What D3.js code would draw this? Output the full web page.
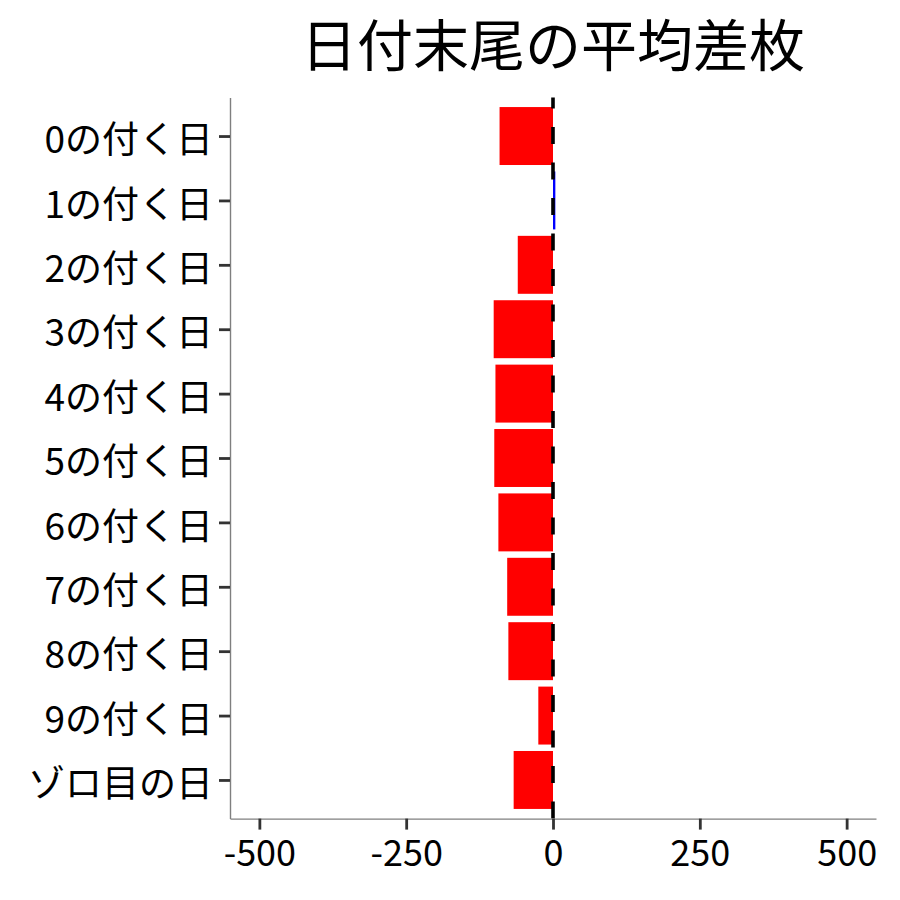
<!DOCTYPE html>
<html>
<head>
    <meta charset="utf-8">
    <title>日付末尾の平均差枚</title>
    <script src="https://d3js.org/d3.v7.min.js"></script>
    <style>
        body { margin: 0; background: #fff; }
        text { font-family: "Noto Sans CJK JP", "Noto Sans", sans-serif; }
    </style>
</head>
<body>
    <div id="chart"></div>

    <script>
        // Data for the chart
        var categories = ["0の付く日", "1の付く日", "2の付く日", "3の付く日", "4の付く日",
                          "5の付く日", "6の付く日", "7の付く日", "8の付く日", "9の付く日", "ゾロ目の日"];
        var values = [-91, 4, -60, -101, -98, -100, -93, -78, -76, -25, -67];
        var xTicks = [-500, -250, 0, 250, 500];
        var title = "日付末尾の平均差枚";

        var data = categories.map(function(c, i) { return { label: c, value: values[i] }; });

        // Chart dimensions
        var W = 900, H = 900;
        var margin = { top: 97.4, right: 24, bottom: 81.4, left: 230 };
        var width = W - margin.left - margin.right;
        var height = H - margin.top - margin.bottom;

        var svg = d3.select("#chart")
            .append("svg")
            .attr("width", W)
            .attr("height", H);

        var g = svg.append("g")
            .attr("transform", "translate(" + margin.left + "," + margin.top + ")");

        // Scales
        var x = d3.scaleLinear()
            .domain([-550, 550])
            .range([0, width]);

        var y = d3.scalePoint()
            .domain(categories)
            .range([0, height])
            .padding(0.6);

        var barH = y.step() * 0.9;

        // Bars
        g.selectAll(".bar")
            .data(data)
            .enter()
            .append("rect")
            .attr("class", "bar")
            .attr("x", function(d) { return x(Math.min(0, d.value)); })
            .attr("y", function(d) { return y(d.label) - barH / 2; })
            .attr("width", function(d) { return Math.abs(x(d.value) - x(0)); })
            .attr("height", barH)
            .attr("fill", function(d) { return d.value < 0 ? "#FF0000" : "#0000FF"; });

        // Dashed reference line at 0 (drawn from bottom up)
        g.append("line")
            .attr("x1", x(0)).attr("x2", x(0))
            .attr("y1", height).attr("y2", 0)
            .attr("stroke", "#000")
            .attr("stroke-width", 3.6)
            .attr("stroke-dasharray", "17,18.5");

        // x-axis
        var xAxis = g.append("g")
            .attr("transform", "translate(0," + height + ")")
            .call(d3.axisBottom(x).tickValues(xTicks)
                .tickFormat(function(d) { return String(d); })
                .tickSizeInner(11).tickSizeOuter(0).tickPadding(6));

        // y-axis
        var yAxis = g.append("g")
            .call(d3.axisLeft(y).tickSizeInner(11).tickSizeOuter(0).tickPadding(6));

        [xAxis, yAxis].forEach(function(ax) {
            ax.select(".domain").attr("stroke", "#7f7f7f").attr("stroke-width", 1.4);
            ax.selectAll(".tick line").attr("stroke", "#333").attr("stroke-width", 2.8);
            ax.selectAll(".tick text")
                .attr("fill", "#000")
                .style("font-family", '"Noto Sans CJK JP", "Noto Sans", sans-serif');
        });
        yAxis.selectAll(".tick text").style("font-size", "37px").attr("dy", "0.45em");
        xAxis.selectAll(".tick text").style("font-size", "36px").attr("dy", "0.85em");

        // Title
        svg.append("text")
            .attr("x", margin.left + width / 2)
            .attr("y", 66)
            .attr("text-anchor", "middle")
            .style("font-size", "56px")
            .attr("fill", "#000")
            .text(title);
    </script>
</body>
</html>
